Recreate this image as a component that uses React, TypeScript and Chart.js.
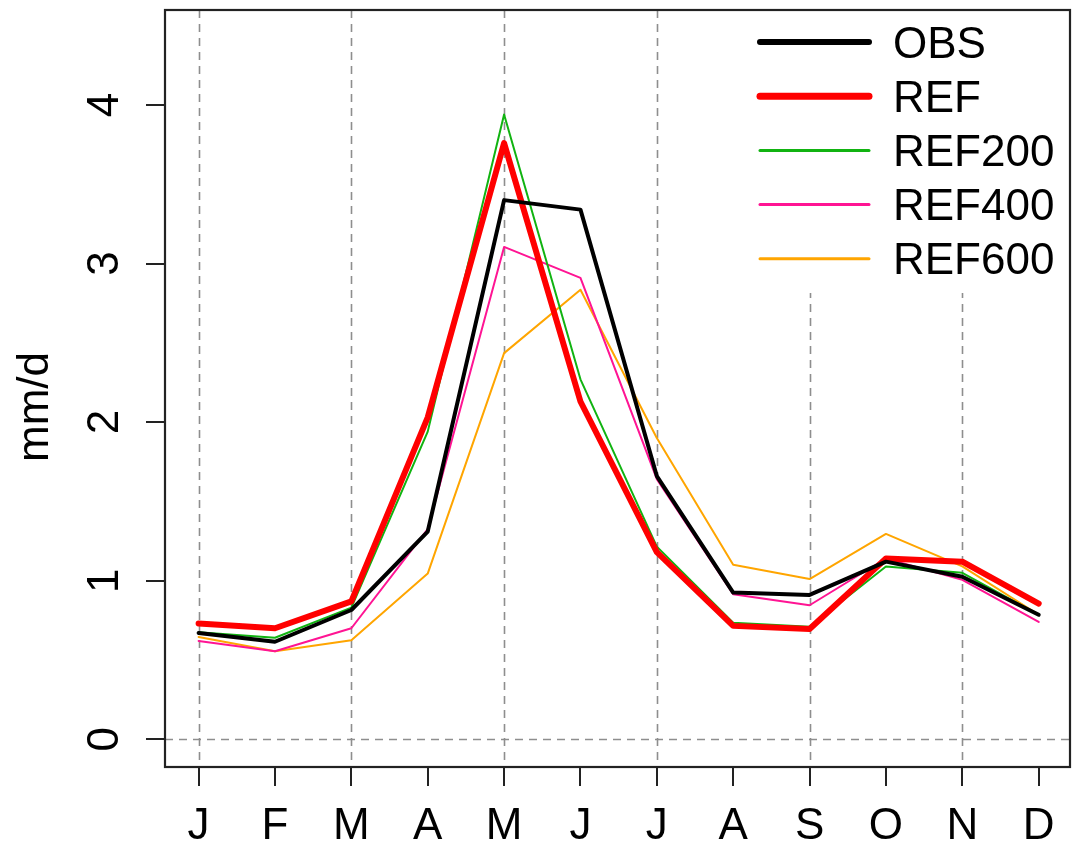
import React, { useEffect, useRef } from "react";
import { Chart, registerables } from "chart.js";

Chart.register(...registerables);

const months = ["J", "F", "M", "A", "M", "J", "J", "A", "S", "O", "N", "D"];
const obs = [0.67, 0.615, 0.815, 1.31, 3.4, 3.34, 1.66, 0.925, 0.91, 1.12, 1.025, 0.785];
const ref = [0.73, 0.7, 0.87, 2.03, 3.76, 2.13, 1.18, 0.715, 0.695, 1.14, 1.12, 0.855];
const ref200 = [0.675, 0.64, 0.83, 1.94, 3.94, 2.27, 1.215, 0.735, 0.71, 1.09, 1.05, 0.785];
const ref400 = [0.62, 0.555, 0.7, 1.325, 3.105, 2.91, 1.64, 0.915, 0.845, 1.14, 1.005, 0.74];
const ref600 = [0.645, 0.555, 0.625, 1.045, 2.435, 2.835, 1.9, 1.1, 1.01, 1.295, 1.09, 0.785];
const yTicks = [0, 1, 2, 3, 4];
const dashedMonths = [0, 2, 4, 6, 8, 10];
const seriesNames = ["OBS", "REF", "REF200", "REF400", "REF600"];
const seriesColors = ["#000000", "#ff0000", "#11b311", "#ff1493", "#ffa500"];
const seriesWidths = [4, 6, 2, 2, 2];
const legendWidths = [6, 7, 3, 3, 3];
const seriesValues = [obs, ref, ref200, ref400, ref600];
const yTitle = "mm/d";

const FONT = "'Liberation Sans', Arial, Helvetica, sans-serif";
const FS = 44;

const customPlugin = {
  id: "rstyle",
  beforeDatasetsDraw(chart: any) {
    const { ctx, chartArea, scales } = chart;
    const xs = scales.x;
    const ys = scales.y;
    ctx.save();
    ctx.strokeStyle = "#8e8e8e";
    ctx.lineWidth = 1.6;
    ctx.setLineDash([8, 6]);
    dashedMonths.forEach((m) => {
      const px = Math.round(xs.getPixelForValue(m)) + 0.5;
      ctx.beginPath();
      ctx.moveTo(px, chartArea.top);
      ctx.lineTo(px, chartArea.bottom);
      ctx.stroke();
    });
    const py = Math.round(ys.getPixelForValue(0)) + 0.5;
    ctx.beginPath();
    ctx.moveTo(chartArea.left, py);
    ctx.lineTo(chartArea.right, py);
    ctx.stroke();
    ctx.restore();
  },
  afterDraw(chart: any) {
    const { ctx, chartArea, scales } = chart;
    const ys = scales.y;
    ctx.save();
    ctx.fillStyle = "#ffffff";
    ctx.fillRect(720, chartArea.top + 1, chartArea.right - 721, 282);
    ctx.font = `${FS}px ${FONT}`;
    ctx.textBaseline = "alphabetic";
    ctx.textAlign = "left";
    ctx.lineCap = "round";
    seriesNames.forEach((name, i) => {
      const cy = 42 + i * 54.2;
      ctx.strokeStyle = seriesColors[i];
      ctx.lineWidth = legendWidths[i];
      ctx.beginPath();
      ctx.moveTo(760, cy);
      ctx.lineTo(869, cy);
      ctx.stroke();
      ctx.fillStyle = "#000";
      ctx.fillText(name, 893, cy + 15.5);
    });
    ctx.strokeStyle = "#222";
    ctx.lineWidth = 2.2;
    ctx.setLineDash([]);
    ctx.strokeRect(chartArea.left, chartArea.top, chartArea.right - chartArea.left, chartArea.bottom - chartArea.top);
    ctx.fillStyle = "#000";
    ctx.font = `${FS}px ${FONT}`;
    ctx.textAlign = "center";
    ctx.textBaseline = "alphabetic";
    yTicks.forEach((t) => {
      const py = ys.getPixelForValue(t);
      ctx.save();
      ctx.translate(118, py);
      ctx.rotate(-Math.PI / 2);
      ctx.fillText(String(t), 0, 0);
      ctx.restore();
    });
    ctx.save();
    ctx.translate(48, 407);
    ctx.rotate(-Math.PI / 2);
    ctx.fillText(yTitle, 0, 0);
    ctx.restore();
    ctx.restore();
  },
};

export default function App() {
  const ref1 = useRef<HTMLCanvasElement | null>(null);
  useEffect(() => {
    document.body.style.margin = "0";
    const canvas = ref1.current!;
    const chart = new Chart(canvas, {
      type: "line",
      data: {
        datasets: seriesNames.map((name, i) => ({
          label: name,
          data: seriesValues[i].map((v, k) => ({ x: k, y: v })),
          borderColor: seriesColors[i],
          backgroundColor: seriesColors[i],
          borderWidth: seriesWidths[i],
          pointRadius: 0,
          tension: 0,
          fill: false,
          borderJoinStyle: "round" as const,
          borderCapStyle: "round" as const,
        })),
      },
      options: {
        animation: false,
        responsive: false,
        devicePixelRatio: 1,
        layout: { padding: { top: 10, right: 3, left: 0, bottom: 0 } },
        plugins: { legend: { display: false }, tooltip: { enabled: false } },
        scales: {
          x: {
            type: "linear",
            min: -0.44,
            max: 11.41,
            afterBuildTicks: (s: any) => {
              s.ticks = months.map((_, i) => ({ value: i }));
            },
            afterFit: (s: any) => {
              s.height = 80;
            },
            ticks: {
              autoSkip: false,
              maxRotation: 0,
              minRotation: 0,
              padding: 14,
              color: "#000",
              font: { family: FONT, size: FS },
              callback: (v: any) => months[v as number] ?? "",
            },
            grid: {
              drawOnChartArea: false,
              drawTicks: true,
              tickLength: 19,
              color: "#222",
              lineWidth: 2,
            },
            border: { display: false },
          },
          y: {
            type: "linear",
            min: -0.175,
            max: 4.599,
            afterBuildTicks: (s: any) => {
              s.ticks = yTicks.map((v) => ({ value: v }));
            },
            afterFit: (s: any) => {
              s.width = 165;
            },
            ticks: { display: false },
            grid: {
              drawOnChartArea: false,
              drawTicks: true,
              tickLength: 19,
              color: "#222",
              lineWidth: 2,
            },
            border: { display: false },
          },
        },
      },
      plugins: [customPlugin],
    });
    return () => chart.destroy();
  }, []);
  return (
    <div style={{ width: 1073, height: 847, background: "#fff" }}>
      <canvas ref={ref1} width={1073} height={847} style={{ display: "block" }} />
    </div>
  );
}
